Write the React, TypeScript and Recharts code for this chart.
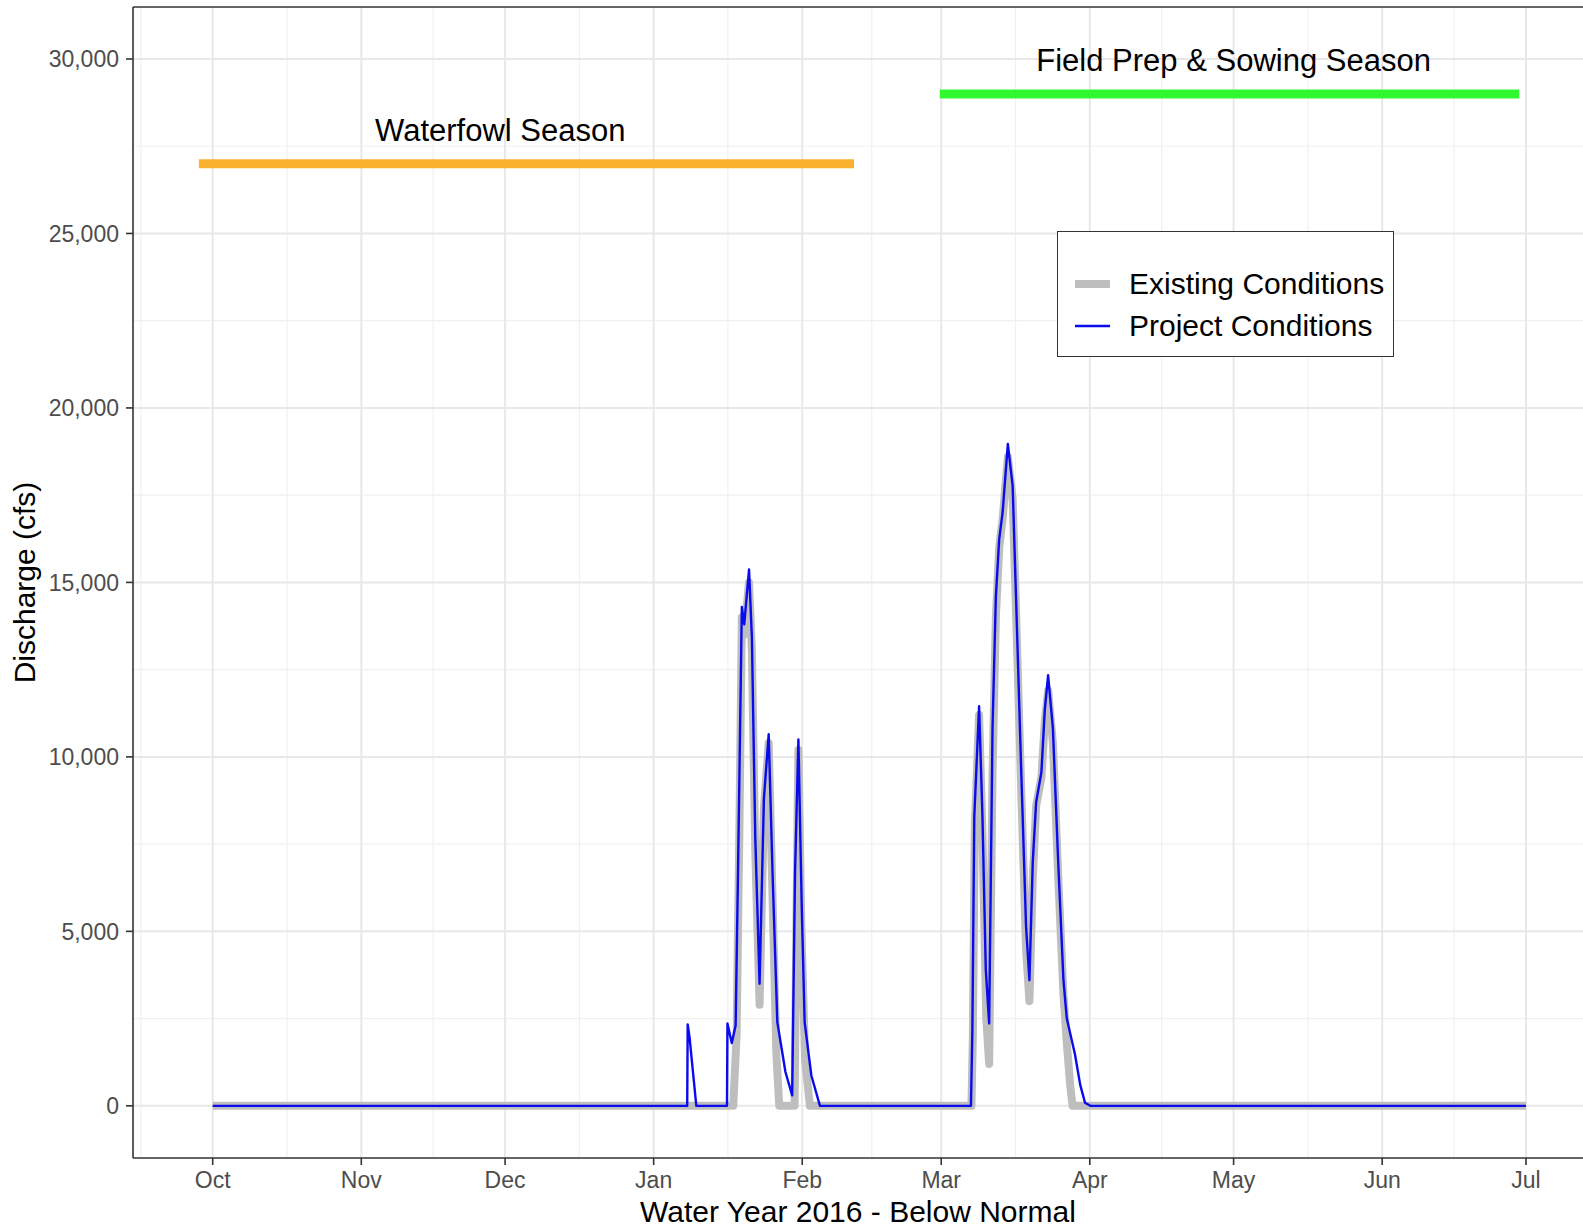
import React from "react";
import {
  LineChart,
  Line,
  XAxis,
  YAxis,
  CartesianGrid,
  ReferenceLine,
  ReferenceDot,
  Legend,
} from "recharts";

// days counted from 1 Oct 2015 (water year 2016)
const monthTicks = [0, 31, 61, 92, 123, 152, 183, 213, 244, 274];
const monthLabels = ["Oct", "Nov", "Dec", "Jan", "Feb", "Mar", "Apr", "May", "Jun", "Jul"];
const monthMinor = [-15, 15.5, 46, 76.5, 107.5, 137.5, 167.5, 198, 228.5, 259];

const yTicks = [0, 5000, 10000, 15000, 20000, 25000, 30000];
const yMinor = [2500, 7500, 12500, 17500, 22500, 27500];

// [day, discharge cfs]
const existingPts: [number, number][] = [
  [0, 0], [108.6, 0], [109.3, 2000], [109.9, 8000], [110.4, 14000], [110.9, 13500],
  [111.9, 15000], [112.5, 13000], [113.2, 7300], [114.1, 2900], [115.0, 8500],
  [116.0, 10400], [116.8, 6000], [117.6, 1500], [118.2, 0], [121.4, 0], [121.8, 5500],
  [122.2, 10200], [122.8, 5200], [123.6, 1300], [124.6, 0], [158.3, 0], [158.6, 2000],
  [159.0, 8000], [159.9, 11200], [160.6, 7800], [161.4, 2500], [162.0, 1200],
  [162.7, 9500], [163.4, 14000], [164.1, 16000], [164.8, 16800], [165.9, 18600],
  [166.9, 17400], [167.6, 14200], [168.7, 9000], [169.7, 4500], [170.4, 3000],
  [171.1, 6500], [171.8, 8600], [172.9, 9400], [173.6, 11000], [174.3, 11900],
  [175.3, 10400], [176.4, 6600], [177.5, 3200], [178.2, 1800], [178.9, 600],
  [179.4, 0], [274, 0],
];

const projectPts: [number, number][] = [
  [0, 0], [99.0, 0], [99.1, 2330], [99.5, 1950], [100.9, 0], [107.3, 0], [107.4, 2360],
  [108.3, 1800], [109.1, 2300], [109.6, 6700], [110.4, 14300], [110.9, 13800],
  [111.9, 15370], [112.5, 13400], [113.2, 7700], [114.1, 3500], [115.0, 8800],
  [116.0, 10650], [116.8, 6700], [117.8, 2400], [119.5, 970], [120.9, 300],
  [121.5, 6700], [122.2, 10500], [122.9, 5700], [123.5, 2400], [124.9, 870],
  [126.7, 0], [158.2, 0], [158.5, 2200], [158.9, 8300], [159.9, 11450], [160.6, 8300],
  [161.3, 3900], [162.0, 2360], [162.7, 10800], [163.4, 14600], [164.1, 16250],
  [164.8, 17000], [165.9, 18970], [166.9, 17770], [167.6, 14600], [168.7, 9560],
  [169.7, 5140], [170.4, 3600], [171.1, 7000], [171.8, 8700], [172.9, 9560],
  [173.6, 11330], [174.3, 12340], [175.3, 10820], [176.4, 7000], [177.5, 3600],
  [178.2, 2500], [179.9, 1480], [181.0, 600], [182.0, 90], [183.1, 0], [274, 0],
];

// seasons: [start day, end day, level, label day, label level]
const waterfowl = { start: -2.9, end: 133.8, level: 27000, labelDay: 60, labelLevel: 28000 };
const fieldPrep = { start: 151.7, end: 272.6, level: 29000, labelDay: 213, labelLevel: 30000 };

const FONT = "'Liberation Sans', Arial, Helvetica, sans-serif";
const GRAY = "#BEBEBE";
const BLUE = "#0A0AEE";

const existingData = existingPts.map(([day, q]) => ({ day, q }));
const projectData = projectPts.map(([day, q]) => ({ day, q }));

const legendItems = [
  { name: "Existing Conditions", color: GRAY, width: 8 },
  { name: "Project Conditions", color: BLUE, width: 2.4 },
];

const seasonText = (text: string) => (props: any) => (
  <text
    x={props.cx}
    y={props.cy}
    dy={2}
    textAnchor="middle"
    dominantBaseline="central"
    fontSize={31}
    fontFamily={FONT}
    fill="#000"
  >
    {text}
  </text>
);

const LegendBox = () => (
  <div
    style={{
      width: 337,
      height: 126,
      border: "1.5px solid #333",
      background: "#fff",
      boxSizing: "border-box",
      position: "relative",
      fontFamily: FONT,
    }}
  >
    {legendItems.map((it, i) => (
      <div
        key={it.name}
        style={{
          position: "absolute",
          left: 17,
          top: 52 + i * 42 - 20,
          height: 40,
          display: "flex",
          alignItems: "center",
        }}
      >
        <svg width={35} height={12}>
          <line x1={0} x2={35} y1={6} y2={6} stroke={it.color} strokeWidth={it.width} />
        </svg>
        <span style={{ marginLeft: 19, fontSize: 30, color: "#000", whiteSpace: "nowrap" }}>
          {it.name}
        </span>
      </div>
    ))}
  </div>
);

export default function App() {
  return (
    <div
      style={{
        position: "absolute",
        left: 0,
        top: 0,
        width: 1583,
        height: 1231,
        overflow: "hidden",
        background: "#fff",
      }}
    >
      <LineChart width={1583} height={1231} margin={{ top: 7, right: 0, bottom: 0, left: 0 }}>
        <CartesianGrid
          stroke="#F0F0F0"
          strokeWidth={1.2}
          horizontalValues={yMinor}
          verticalValues={monthMinor}
        />
        <CartesianGrid
          stroke="#E8E8E8"
          strokeWidth={2}
          horizontalValues={yTicks}
          verticalValues={monthTicks}
        />
        <XAxis
          type="number"
          dataKey="day"
          domain={[-16.63, 285.9]}
          allowDataOverflow
          ticks={monthTicks}
          tickFormatter={(v: number) => monthLabels[monthTicks.indexOf(v)]}
          height={73}
          tickSize={7}
          tickMargin={7}
          stroke="#333"
          axisLine={{ stroke: "#333", strokeWidth: 1.6 }}
          tickLine={{ stroke: "#333", strokeWidth: 1.6 }}
          tick={{ fill: "#4D4D4D", fontSize: 23, fontFamily: FONT }}
          label={{
            value: "Water Year 2016 - Below Normal",
            position: "insideBottom",
            offset: 9,
            style: { fill: "#000", fontSize: 30, fontFamily: FONT },
          }}
        />
        <YAxis
          type="number"
          dataKey="q"
          domain={[-1495, 31490]}
          allowDataOverflow
          ticks={yTicks}
          tickFormatter={(v: number) => v.toLocaleString("en-US")}
          width={133}
          tickSize={7}
          tickMargin={7}
          axisLine={{ stroke: "#333", strokeWidth: 1.6 }}
          tickLine={{ stroke: "#333", strokeWidth: 1.6 }}
          tick={{ fill: "#4D4D4D", fontSize: 23, fontFamily: FONT }}
          label={{
            value: "Discharge (cfs)",
            angle: -90,
            position: "insideLeft",
            offset: 24,
            style: { fill: "#000", fontSize: 30, fontFamily: FONT, textAnchor: "middle" },
          }}
        />
        <ReferenceLine y={31490} stroke="#333" strokeWidth={1.6} />
        <ReferenceLine
          segment={[
            { x: waterfowl.start, y: waterfowl.level },
            { x: waterfowl.end, y: waterfowl.level },
          ]}
          stroke="#F9B12E"
          strokeWidth={9}
        />
        <ReferenceLine
          segment={[
            { x: fieldPrep.start, y: fieldPrep.level },
            { x: fieldPrep.end, y: fieldPrep.level },
          ]}
          stroke="#30F830"
          strokeWidth={9}
        />
        <ReferenceDot
          x={waterfowl.labelDay}
          y={waterfowl.labelLevel}
          r={0}
          shape={seasonText("Waterfowl Season")}
        />
        <ReferenceDot
          x={fieldPrep.labelDay}
          y={fieldPrep.labelLevel}
          r={0}
          shape={seasonText("Field Prep & Sowing Season")}
        />
        <Line
          data={existingData}
          dataKey="q"
          name="Existing Conditions"
          type="linear"
          stroke={GRAY}
          strokeWidth={8}
          strokeLinejoin="round"
          dot={false}
          activeDot={false}
          isAnimationActive={false}
        />
        <Line
          data={projectData}
          dataKey="q"
          name="Project Conditions"
          type="linear"
          stroke={BLUE}
          strokeWidth={2.4}
          strokeLinejoin="round"
          dot={false}
          activeDot={false}
          isAnimationActive={false}
        />
        <Legend
          layout="vertical"
          align="center"
          verticalAlign="middle"
          wrapperStyle={{ left: 1057, top: 231, width: 337, height: 126 }}
          content={() => <LegendBox />}
        />
      </LineChart>
    </div>
  );
}
